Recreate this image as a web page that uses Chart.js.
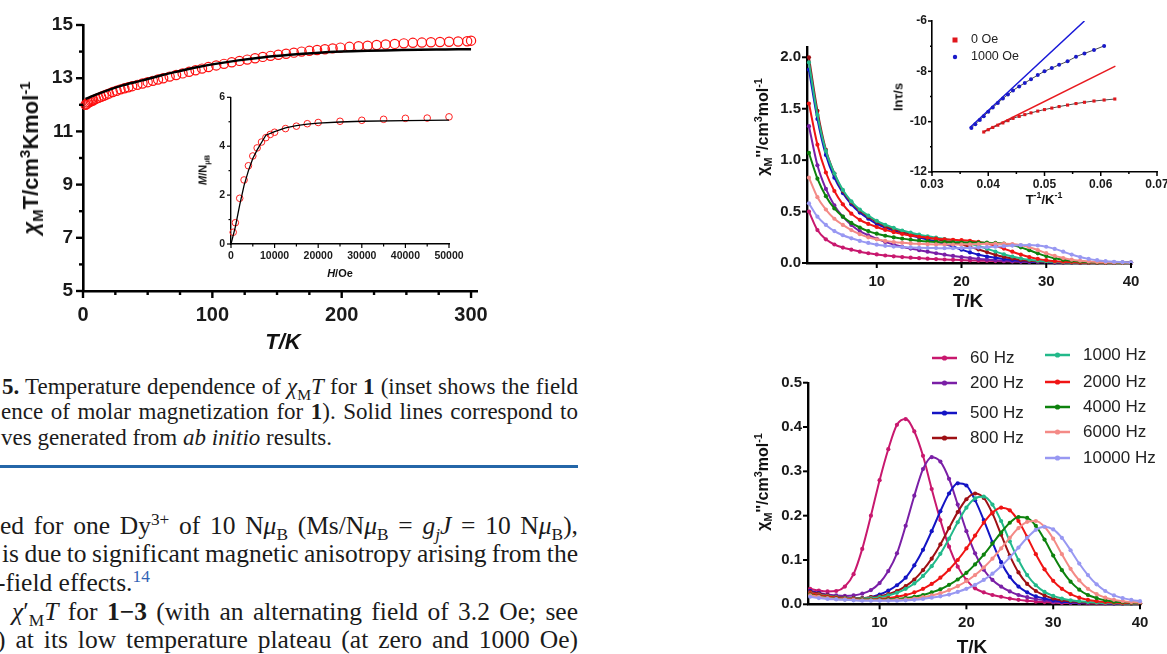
<!DOCTYPE html>
<html>
<head>
<meta charset="utf-8">
<script src="https://cdn.jsdelivr.net/npm/chart.js@4.4.0/dist/chart.umd.min.js"></script>
<style>
    body { margin: 0; width: 1167px; height: 654px; overflow: hidden; position: relative; background: #fff; font-family: "Liberation Sans", Arial, sans-serif; }
    canvas { position: absolute; }
    .t { position: absolute; white-space: nowrap; font-weight: bold; color: #111; line-height: 1; }
    .rot { transform: translate(-50%, -50%) rotate(-90deg); }
    .ctr { transform: translate(-50%, -50%); }
    .t sub, .t sup, .ln sub, .ln sup { font-size: 68%; line-height: 0; }
    .ln { position: absolute; white-space: nowrap; font-family: "Liberation Serif", "DejaVu Serif", serif; color: #1b1b1b; line-height: 1; }
    .cap { font-size: 23px; }
    .bod { font-size: 25.5px; }
    .rule { position: absolute; left: 0; top: 465px; width: 578px; height: 2.5px; background: #2466a8; }
</style>
</head>
<body>

<canvas id="chiT" width="500" height="340" style="left:0;top:0"></canvas>
<canvas id="magn" width="285" height="200" style="left:185px;top:85px"></canvas>
<canvas id="zeroField" width="447" height="320" style="left:720px;top:0"></canvas>
<canvas id="arrh" width="310" height="210" style="left:880px;top:0"></canvas>
<canvas id="freqs" width="447" height="324" style="left:720px;top:330px"></canvas>

<!-- axis titles -->
<div class="t rot" style="left:31px;top:158px;font-size:22px"><i>χ</i><sub>M</sub>T/cm<sup>3</sup>Kmol<sup>-1</sup></div>
<div class="t ctr" style="left:283px;top:342px;font-size:22px"><i>T/K</i></div>
<div class="t rot" style="left:203px;top:170px;font-size:11px"><i>M</i>/N<sub>μB</sub></div>
<div class="t ctr" style="left:340px;top:273px;font-size:11px"><i>H</i>/Oe</div>

<div class="t rot" style="left:763px;top:127px;font-size:16px">χ<sub>M</sub>''/cm<sup>3</sup>mol<sup>-1</sup></div>
<div class="t ctr" style="left:968px;top:300px;font-size:19px">T/K</div>
<div class="t rot" style="left:898px;top:97px;font-size:13px">lnτ/s</div>
<div class="t ctr" style="left:1044px;top:199px;font-size:13px">T<sup>-1</sup>/K<sup>-1</sup></div>

<div class="t rot" style="left:763px;top:482px;font-size:16px">χ<sub>M</sub>''/cm<sup>3</sup>mol<sup>-1</sup></div>
<div class="t ctr" style="left:972px;top:646px;font-size:19px">T/K</div>

<!-- page text -->
<div class="ln cap just" data-l="2" style="left:2px;top:375px"><b>5.</b> Temperature dependence of <i>χ</i><sub>M</sub><i>T</i> for <b>1</b> (inset shows the field</div>
<div class="ln cap just" data-l="1" style="left:1px;top:400px">ence of molar magnetization for <b>1</b>). Solid lines correspond to</div>
<div class="ln cap" style="left:1px;top:426px">ves generated from <i>ab initio</i> results.</div>
<div class="rule"></div>
<div class="ln bod just" data-l="0" style="left:0;top:513px">ed for one Dy<sup>3+</sup> of 10 N<i>μ</i><sub>B</sub> (Ms/N<i>μ</i><sub>B</sub> = <i>g<sub>j</sub>J</i> = 10 N<i>μ</i><sub>B</sub>),</div>
<div class="ln bod just" data-l="2" style="left:2px;top:541px">is due to significant magnetic anisotropy arising from the</div>
<div class="ln bod" style="left:-3px;top:570px">-field effects.<sup style="color:#2f63b5">14</sup></div>
<div class="ln bod just" data-l="12" style="left:12px;top:599px"><i>χ</i>′<sub>M</sub><i>T</i> for <b>1−3</b> (with an alternating field of 3.2 Oe; see</div>
<div class="ln bod just" data-l="-3" style="left:-3px;top:627px">) at its low temperature plateau (at zero and 1000 Oe)</div>

<script>
// ---- chi_M T vs T ----
let tempK = [2, 3, 4, 5, 6, 7, 8, 10, 12, 14, 16, 18, 20, 23, 26, 29, 32, 35, 38, 42, 46, 50, 54, 58, 62, 67, 72, 77, 82, 87, 92, 97, 103, 109, 115, 121, 127, 133, 139, 145, 151, 157, 163, 169, 175, 181, 187, 193, 199, 206, 213, 220, 227, 234, 241, 248, 255, 262, 269, 276, 283, 290, 297, 300];
let chiT = [12.0, 12.04, 12.08, 12.1, 12.13, 12.15, 12.17, 12.22, 12.26, 12.3, 12.34, 12.38, 12.42, 12.48, 12.53, 12.58, 12.62, 12.66, 12.7, 12.75, 12.8, 12.85, 12.9, 12.95, 13.0, 13.06, 13.12, 13.18, 13.24, 13.3, 13.36, 13.42, 13.48, 13.54, 13.6, 13.65, 13.7, 13.75, 13.8, 13.84, 13.88, 13.92, 13.96, 14.0, 14.03, 14.06, 14.09, 14.12, 14.15, 14.18, 14.2, 14.22, 14.25, 14.27, 14.29, 14.31, 14.33, 14.34, 14.35, 14.36, 14.37, 14.38, 14.39, 14.41];
let tempFit = [2, 5, 10, 20, 30, 40, 50, 60, 70, 80, 90, 100, 120, 140, 160, 180, 200, 220, 240, 260, 280, 300];
let chiTFit = [12.22, 12.28, 12.38, 12.56, 12.72, 12.85, 12.97, 13.1, 13.22, 13.33, 13.43, 13.52, 13.67, 13.79, 13.88, 13.95, 14.0, 14.03, 14.05, 14.07, 14.08, 14.09];

// ---- M vs H (inset) ----
let hField = [500, 1000, 2000, 3000, 4000, 5000, 6000, 7000, 8000, 9000, 10000, 12500, 15000, 17500, 20000, 25000, 30000, 35000, 40000, 45000, 50000];
let magn = [0.48, 0.87, 1.87, 2.62, 3.2, 3.6, 3.93, 4.17, 4.35, 4.48, 4.57, 4.72, 4.82, 4.92, 4.97, 5.02, 5.06, 5.1, 5.14, 5.15, 5.2];
let hFit = [0, 1000, 2000, 3000, 4000, 5000, 6000, 7000, 8000, 10000, 12500, 15000, 17500, 20000, 25000, 30000, 40000, 50000];
let magnFit = [0, 0.7, 1.6, 2.4, 3.0, 3.5, 3.85, 4.15, 4.45, 4.6, 4.75, 4.84, 4.9, 4.94, 4.99, 5.02, 5.05, 5.07];

// ---- ac data, shared temperature grid ----
let tGrid = [2, 3, 4, 5, 6, 7, 8, 9, 10, 11, 12, 13, 14, 15, 16, 17, 18, 19, 20, 21, 22, 23, 24, 25, 26, 27, 28, 29, 30, 31, 32, 33, 34, 35, 36, 37, 38, 39, 40];
let freqLabels = ["60 Hz", "200 Hz", "500 Hz", "800 Hz", "1000 Hz", "2000 Hz", "4000 Hz", "6000 Hz", "10000 Hz"];
let freqColors = ["#c8186e", "#7a1fa6", "#1414c4", "#9e1014", "#22b98a", "#f01414", "#0d820d", "#f48a86", "#9898f2"];

// zero field chi'' (top right)
let zf60 = [0.5, 0.32, 0.23, 0.18, 0.15, 0.13, 0.11, 0.095, 0.083, 0.073, 0.065, 0.058, 0.052, 0.047, 0.042, 0.038, 0.034, 0.031, 0.028, 0.025, 0.023, 0.021, 0.019, 0.017, 0.015, 0.014, 0.012, 0.011, 0.01, 0.009, 0.008, 0.007, 0.006, 0.006, 0.005, 0.005, 0.004, 0.004, 0.004];
let zf200 = [1.33, 0.95, 0.72, 0.56, 0.45, 0.37, 0.31, 0.27, 0.235, 0.205, 0.18, 0.158, 0.14, 0.125, 0.11, 0.095, 0.081, 0.069, 0.058, 0.048, 0.04, 0.033, 0.027, 0.022, 0.018, 0.014, 0.011, 0.009, 0.007, 0.006, 0.005, 0.004, 0.004, 0.003, 0.003, 0.003, 0.002, 0.002, 0.002];
let zf500 = [1.88, 1.4, 1.05, 0.83, 0.68, 0.57, 0.49, 0.43, 0.38, 0.345, 0.315, 0.29, 0.268, 0.248, 0.228, 0.208, 0.185, 0.16, 0.13, 0.103, 0.08, 0.063, 0.05, 0.039, 0.029, 0.021, 0.015, 0.011, 0.008, 0.006, 0.005, 0.004, 0.003, 0.003, 0.003, 0.002, 0.002, 0.002, 0.002];
let zf800 = [2.0, 1.48, 1.1, 0.87, 0.7, 0.59, 0.51, 0.45, 0.4, 0.36, 0.33, 0.305, 0.283, 0.264, 0.247, 0.232, 0.217, 0.2, 0.18, 0.157, 0.132, 0.106, 0.081, 0.06, 0.043, 0.03, 0.021, 0.015, 0.01, 0.008, 0.006, 0.005, 0.004, 0.003, 0.003, 0.003, 0.002, 0.002, 0.002];
let zf1000 = [1.95, 1.44, 1.09, 0.87, 0.71, 0.6, 0.52, 0.46, 0.41, 0.372, 0.342, 0.316, 0.295, 0.276, 0.26, 0.246, 0.233, 0.22, 0.205, 0.187, 0.165, 0.139, 0.111, 0.085, 0.063, 0.045, 0.032, 0.022, 0.015, 0.011, 0.008, 0.006, 0.005, 0.004, 0.003, 0.003, 0.002, 0.002, 0.002];
let zf2000 = [1.55, 1.15, 0.88, 0.7, 0.57, 0.48, 0.42, 0.38, 0.35, 0.322, 0.3, 0.282, 0.267, 0.255, 0.245, 0.237, 0.231, 0.226, 0.222, 0.216, 0.205, 0.19, 0.168, 0.14, 0.11, 0.082, 0.058, 0.04, 0.027, 0.018, 0.012, 0.009, 0.006, 0.005, 0.004, 0.003, 0.003, 0.002, 0.002];
let zf4000 = [1.07, 0.82, 0.65, 0.53, 0.45, 0.39, 0.345, 0.31, 0.285, 0.265, 0.25, 0.237, 0.226, 0.217, 0.21, 0.205, 0.202, 0.2, 0.199, 0.199, 0.199, 0.198, 0.195, 0.188, 0.174, 0.152, 0.124, 0.094, 0.067, 0.046, 0.031, 0.021, 0.014, 0.01, 0.007, 0.005, 0.004, 0.003, 0.003];
let zf6000 = [0.83, 0.64, 0.52, 0.43, 0.37, 0.32, 0.28, 0.25, 0.23, 0.215, 0.204, 0.196, 0.19, 0.186, 0.183, 0.181, 0.18, 0.18, 0.181, 0.182, 0.184, 0.186, 0.188, 0.188, 0.184, 0.173, 0.153, 0.126, 0.096, 0.069, 0.048, 0.032, 0.022, 0.015, 0.01, 0.007, 0.005, 0.004, 0.003];
let zf10000 = [0.58, 0.45, 0.37, 0.31, 0.27, 0.24, 0.215, 0.195, 0.178, 0.167, 0.16, 0.155, 0.151, 0.148, 0.146, 0.145, 0.144, 0.144, 0.145, 0.147, 0.15, 0.154, 0.159, 0.164, 0.169, 0.173, 0.174, 0.17, 0.158, 0.137, 0.11, 0.082, 0.058, 0.04, 0.027, 0.018, 0.012, 0.009, 0.006];

// 1000 Oe chi'' (bottom right)
let f60 = [0.035, 0.031, 0.029, 0.03, 0.04, 0.068, 0.125, 0.2, 0.28, 0.35, 0.405, 0.418, 0.39, 0.335, 0.26, 0.19, 0.13, 0.085, 0.055, 0.036, 0.027, 0.021, 0.017, 0.013, 0.01, 0.008, 0.006, 0.005, 0.004, 0.003, 0.003, 0.003, 0.002, 0.002, 0.002, 0.002, 0.002, 0.002, 0.002];
let f200 = [0.03, 0.026, 0.022, 0.02, 0.019, 0.02, 0.024, 0.032, 0.048, 0.075, 0.115, 0.177, 0.245, 0.305, 0.332, 0.322, 0.283, 0.225, 0.165, 0.115, 0.078, 0.055, 0.04, 0.029, 0.021, 0.016, 0.012, 0.009, 0.006, 0.005, 0.004, 0.003, 0.003, 0.003, 0.002, 0.002, 0.002, 0.002, 0.002];
let f500 = [0.03, 0.025, 0.02, 0.017, 0.015, 0.014, 0.014, 0.016, 0.022, 0.031, 0.043, 0.06, 0.088, 0.123, 0.165, 0.21, 0.25, 0.273, 0.268, 0.235, 0.19, 0.14, 0.095, 0.062, 0.04, 0.027, 0.018, 0.013, 0.009, 0.006, 0.005, 0.004, 0.003, 0.003, 0.003, 0.002, 0.002, 0.002, 0.002];
let f800 = [0.028, 0.024, 0.02, 0.017, 0.015, 0.014, 0.014, 0.016, 0.018, 0.023, 0.03, 0.041, 0.056, 0.077, 0.103, 0.135, 0.172, 0.208, 0.237, 0.25, 0.24, 0.205, 0.157, 0.11, 0.072, 0.046, 0.03, 0.02, 0.013, 0.009, 0.007, 0.005, 0.004, 0.003, 0.003, 0.003, 0.002, 0.002, 0.002];
let f1000 = [0.026, 0.022, 0.019, 0.016, 0.014, 0.013, 0.013, 0.014, 0.016, 0.02, 0.026, 0.035, 0.047, 0.064, 0.086, 0.114, 0.148, 0.185, 0.218, 0.239, 0.243, 0.225, 0.188, 0.142, 0.1, 0.066, 0.043, 0.028, 0.019, 0.013, 0.009, 0.007, 0.005, 0.004, 0.003, 0.003, 0.002, 0.002, 0.002];
let f2000 = [0.025, 0.021, 0.018, 0.015, 0.013, 0.012, 0.011, 0.011, 0.012, 0.014, 0.017, 0.021, 0.027, 0.035, 0.046, 0.06, 0.078, 0.1, 0.126, 0.155, 0.184, 0.207, 0.218, 0.212, 0.188, 0.152, 0.113, 0.079, 0.053, 0.035, 0.023, 0.015, 0.01, 0.007, 0.005, 0.004, 0.003, 0.003, 0.002];
let f4000 = [0.022, 0.018, 0.015, 0.013, 0.011, 0.01, 0.01, 0.01, 0.01, 0.011, 0.012, 0.014, 0.017, 0.021, 0.027, 0.034, 0.044, 0.056, 0.071, 0.09, 0.112, 0.137, 0.162, 0.184, 0.197, 0.195, 0.177, 0.146, 0.11, 0.077, 0.051, 0.033, 0.021, 0.014, 0.009, 0.006, 0.005, 0.004, 0.003];
let f6000 = [0.02, 0.017, 0.014, 0.012, 0.011, 0.01, 0.009, 0.009, 0.009, 0.009, 0.01, 0.011, 0.013, 0.016, 0.02, 0.025, 0.032, 0.041, 0.052, 0.066, 0.083, 0.103, 0.126, 0.15, 0.172, 0.186, 0.188, 0.175, 0.148, 0.113, 0.08, 0.054, 0.035, 0.023, 0.015, 0.01, 0.007, 0.005, 0.004];
let f10000 = [0.017, 0.014, 0.012, 0.011, 0.01, 0.009, 0.008, 0.008, 0.008, 0.008, 0.008, 0.009, 0.01, 0.012, 0.015, 0.018, 0.022, 0.028, 0.035, 0.044, 0.055, 0.069, 0.086, 0.106, 0.128, 0.15, 0.168, 0.175, 0.169, 0.15, 0.122, 0.092, 0.066, 0.045, 0.03, 0.02, 0.014, 0.01, 0.007];

// ---- Arrhenius inset ----
let invT1000 = [0.0370, 0.0377, 0.0385, 0.0392, 0.0400, 0.0408, 0.0417, 0.0426, 0.0435, 0.0444, 0.0455, 0.0465, 0.0476, 0.0488, 0.0500, 0.0513, 0.0526, 0.0541, 0.0556, 0.0571, 0.0588, 0.0606];
let lnTau1000 = [-10.25, -10.1, -9.93, -9.78, -9.61, -9.44, -9.26, -9.08, -8.92, -8.76, -8.6, -8.46, -8.31, -8.15, -8.0, -7.87, -7.74, -7.6, -7.42, -7.29, -7.15, -6.99];
let invT0 = [0.0392, 0.0400, 0.0408, 0.0417, 0.0426, 0.0435, 0.0444, 0.0455, 0.0465, 0.0476, 0.0488, 0.0500, 0.0513, 0.0526, 0.0541, 0.0556, 0.0571, 0.0588, 0.0606, 0.0625];
let lnTau0 = [-10.41, -10.32, -10.23, -10.14, -10.05, -9.96, -9.87, -9.79, -9.72, -9.65, -9.58, -9.52, -9.46, -9.4, -9.34, -9.28, -9.23, -9.18, -9.14, -9.1];
let orbachX0 = [0.0391, 0.0626];
let orbachY0 = [-10.41, -7.79];
let orbachX1000 = [0.0367, 0.0571];
let orbachY1000 = [-10.24, -6.0];

// tick values
let chiTTicksX = [0, 100, 200, 300];
let chiTTicksY = [5, 7, 9, 11, 13, 15];
let magnTicksX = [0, 10000, 20000, 30000, 40000, 50000];
let magnTicksY = [0, 2, 4, 6];
let acTicksX = [10, 20, 30, 40];
let zfTicksY = [0, 0.5, 1.0, 1.5, 2.0];
let acTicksY = [0, 0.1, 0.2, 0.3, 0.4, 0.5];
let arrTicksX = [0.03, 0.04, 0.05, 0.06, 0.07];
let arrTicksY = [-12, -10, -8, -6];

Chart.defaults.font.family = "'Liberation Sans', Arial, sans-serif";
Chart.defaults.color = "#1a1a1a";
Chart.defaults.animation = false;
Chart.defaults.plugins.legend.display = false;
Chart.defaults.plugins.tooltip.enabled = false;

function pairs(xs, ys) {
    return xs.map((x, i) => ({ x: x, y: ys[i] }));
}

function axis(min, max, tickVals, size, fontSize, pad, bw, fmt) {
    return {
        type: "linear",
        min: min,
        max: max,
        grid: { display: false, drawTicks: false },
        border: { display: true, color: "#000", width: bw },
        ticks: {
            font: { size: fontSize, weight: "bold" },
            padding: pad,
            autoSkip: false,
            maxRotation: 0,
            callback: fmt || ((v) => String(v)),
        },
        afterBuildTicks: (s) => {
            s.ticks = tickVals.map((v) => ({ value: v }));
        },
        afterFit: (s) => {
            if (s.isHorizontal()) s.height = size;
            else s.width = size;
        },
    };
}

// outward tick marks, major and minor
let tickMarks = {
    id: "tickMarks",
    afterDraw(chart, args, opts) {
        let ctx = chart.ctx;
        ctx.save();
        ctx.strokeStyle = "#000";
        ctx.lineWidth = opts.width;
        ["x", "y"].forEach((id) => {
            let s = chart.scales[id];
            let cfg = opts[id];
            let draw = (vals, len) => {
                vals.forEach((v) => {
                    let p = s.getPixelForValue(v);
                    ctx.beginPath();
                    if (id === "x") {
                        ctx.moveTo(p, s.top);
                        ctx.lineTo(p, s.top + len);
                    } else {
                        ctx.moveTo(s.right, p);
                        ctx.lineTo(s.right - len, p);
                    }
                    ctx.stroke();
                });
            };
            draw(cfg.major, cfg.majorLen);
            draw(cfg.minor || [], cfg.minorLen || 0);
        });
        ctx.restore();
    },
};

// legends drawn at fixed spots
let spotLegend = {
    id: "spotLegend",
    afterDraw(chart, args, o) {
        if (!o.items) return;
        let ctx = chart.ctx;
        ctx.save();
        ctx.font = o.font;
        ctx.textBaseline = "middle";
        o.items.forEach((it) => {
            let ds = chart.data.datasets[it.ds];
            let col = ds.pointBackgroundColor;
            let [x, y] = it.pos;
            if (o.line) {
                ctx.strokeStyle = col;
                ctx.lineWidth = 2.5;
                ctx.beginPath();
                ctx.moveTo(x, y);
                ctx.lineTo(x + 25, y);
                ctx.stroke();
                ctx.fillStyle = col;
                ctx.beginPath();
                ctx.arc(x + 12.5, y, 2.6, 0, Math.PI * 2);
                ctx.fill();
            } else {
                ctx.fillStyle = col;
                if (ds.pointStyle === "rect") ctx.fillRect(x - 2.5, y - 2.5, 5, 5);
                else {
                    ctx.beginPath();
                    ctx.arc(x, y, 2.2, 0, Math.PI * 2);
                    ctx.fill();
                }
            }
            ctx.fillStyle = "#222";
            ctx.fillText(ds.label, x + o.gap, y);
        });
        ctx.restore();
    },
};

function acSets(series) {
    return series.map((vals, i) => ({
        label: freqLabels[i],
        data: pairs(tGrid, vals),
        showLine: true,
        borderColor: freqColors[i],
        backgroundColor: freqColors[i],
        pointBackgroundColor: freqColors[i],
        borderWidth: 2,
        pointRadius: 2.1,
        pointBorderWidth: 0,
        cubicInterpolationMode: "monotone",
        clip: false,
        order: 10 - i,
    }));
}

// left: chi_M T
new Chart(document.querySelector("#chiT"), {
    type: "scatter",
    data: {
        datasets: [
            {
                data: pairs(tempFit, chiTFit),
                showLine: true,
                borderColor: "#000",
                borderWidth: 2.5,
                pointRadius: 0,
                cubicInterpolationMode: "monotone",
            },
            {
                data: pairs(tempK, chiT),
                pointRadius: 4.6,
                pointBorderColor: "#ff1010",
                pointBackgroundColor: "rgba(0,0,0,0)",
                pointBorderWidth: 1.2,
                clip: false,
            },
        ],
    },
    options: {
        responsive: false,
        layout: { padding: { left: 0, top: 25, right: 16, bottom: 0 } },
        scales: {
            x: axis(0, 305, chiTTicksX, 49, 20, 12, 2.6),
            y: axis(5, 15, chiTTicksY, 83, 19, 10, 2.6),
        },
        plugins: {
            tickMarks: {
                width: 2.4,
                x: { major: chiTTicksX, majorLen: 7, minor: [25, 50, 75, 125, 150, 175, 225, 250, 275], minorLen: 4 },
                y: { major: chiTTicksY, majorLen: 7, minor: [6, 8, 10, 12, 14], minorLen: 4 },
            },
        },
    },
    plugins: [tickMarks],
});

// left inset: M vs H
new Chart(document.querySelector("#magn"), {
    type: "scatter",
    data: {
        datasets: [
            {
                data: pairs(hFit, magnFit),
                showLine: true,
                borderColor: "#000",
                borderWidth: 1.3,
                pointRadius: 0,
            },
            {
                data: pairs(hField, magn),
                pointRadius: 3.3,
                pointBorderColor: "#ff2020",
                pointBackgroundColor: "rgba(0,0,0,0)",
                pointBorderWidth: 1,
                clip: false,
            },
        ],
    },
    options: {
        responsive: false,
        layout: { padding: { left: 0, top: 12, right: 21, bottom: 0 } },
        scales: {
            x: axis(0, 50000, magnTicksX, 41, 10.5, 6, 1.4),
            y: axis(0, 6, magnTicksY, 46, 10.5, 6, 1.4),
        },
        plugins: {
            tickMarks: {
                width: 1.2,
                x: { major: magnTicksX, majorLen: 4, minor: [5000, 15000, 25000, 35000, 45000], minorLen: 2.5 },
                y: { major: magnTicksY, majorLen: 4, minor: [1, 3, 5], minorLen: 2.5 },
            },
        },
    },
    plugins: [tickMarks],
});

// top right: zero field chi''
new Chart(document.querySelector("#zeroField"), {
    type: "scatter",
    data: { datasets: acSets([zf60, zf200, zf500, zf800, zf1000, zf2000, zf4000, zf6000, zf10000]) },
    options: {
        responsive: false,
        layout: { padding: { left: 0, top: 47, right: 36, bottom: 0 } },
        scales: {
            x: axis(1.77, 40, acTicksX, 57, 15, 10, 2.4),
            y: axis(0, 2.1, zfTicksY, 87, 15, 6, 2.4, (v) => v.toFixed(1)),
        },
        plugins: {
            tickMarks: {
                width: 2,
                x: { major: acTicksX, majorLen: 5 },
                y: { major: zfTicksY, majorLen: 5 },
            },
        },
    },
    plugins: [tickMarks],
});

// top right inset: ln tau vs 1/T
new Chart(document.querySelector("#arrh"), {
    type: "scatter",
    data: {
        datasets: [
            {
                label: "0 Oe",
                data: pairs(invT0, lnTau0),
                showLine: true,
                borderColor: "#4a4a4a",
                borderWidth: 1,
                pointStyle: "rect",
                pointRadius: 2.2,
                pointBorderWidth: 0,
                pointBackgroundColor: "#e0161c",
                cubicInterpolationMode: "monotone",
            },
            {
                label: "1000 Oe",
                data: pairs(invT1000, lnTau1000),
                showLine: true,
                borderColor: "#4a4a4a",
                borderWidth: 1,
                pointRadius: 2,
                pointBorderWidth: 0,
                pointBackgroundColor: "#1a1ac8",
                cubicInterpolationMode: "monotone",
            },
            {
                data: pairs(orbachX0, orbachY0),
                showLine: true,
                borderColor: "#e8191e",
                borderWidth: 1.5,
                pointRadius: 0,
            },
            {
                data: pairs(orbachX1000, orbachY1000),
                showLine: true,
                borderColor: "#1818d8",
                borderWidth: 1.5,
                pointRadius: 0,
            },
        ],
    },
    options: {
        responsive: false,
        layout: { padding: { left: 0, top: 21, right: 33, bottom: 0 } },
        scales: {
            x: axis(0.03, 0.07, arrTicksX, 38, 12, 5, 1.6, (v) => v.toFixed(2)),
            y: axis(-12, -6, arrTicksY, 52, 12, 5, 1.6),
        },
        plugins: {
            tickMarks: {
                width: 1.5,
                x: { major: arrTicksX, majorLen: 4, minor: [0.035, 0.045, 0.055, 0.065], minorLen: 2 },
                y: { major: arrTicksY, majorLen: 4, minor: [-11, -9, -7], minorLen: 2 },
            },
            spotLegend: {
                font: '12.5px "Liberation Sans", Arial, sans-serif',
                gap: 16,
                items: [
                    { ds: 0, pos: [75, 40] },
                    { ds: 1, pos: [75, 57] },
                ],
            },
        },
    },
    plugins: [tickMarks, spotLegend],
});

// bottom right: 1000 Oe chi''
new Chart(document.querySelector("#freqs"), {
    type: "scatter",
    data: { datasets: acSets([f60, f200, f500, f800, f1000, f2000, f4000, f6000, f10000]) },
    options: {
        responsive: false,
        layout: { padding: { left: 0, top: 52.7, right: 27, bottom: 0 } },
        scales: {
            x: axis(1.75, 40, acTicksX, 49.7, 15, 10, 2.4),
            y: axis(0, 0.5, acTicksY, 88, 15, 6, 2.4, (v) => v.toFixed(1)),
        },
        plugins: {
            tickMarks: {
                width: 2,
                x: { major: acTicksX, majorLen: 5 },
                y: { major: acTicksY, majorLen: 5 },
            },
            spotLegend: {
                font: '17px "Liberation Sans", Arial, sans-serif',
                gap: 38,
                line: true,
                items: [
                    { ds: 0, pos: [212, 28] },
                    { ds: 1, pos: [212, 53] },
                    { ds: 2, pos: [212, 83] },
                    { ds: 3, pos: [212, 108] },
                    { ds: 4, pos: [325, 25] },
                    { ds: 5, pos: [325, 52] },
                    { ds: 6, pos: [325, 77] },
                    { ds: 7, pos: [325, 102] },
                    { ds: 8, pos: [325, 128] },
                ],
            },
        },
    },
    plugins: [tickMarks, spotLegend],
});

// stretch the justified text lines out to the right margin
document.querySelectorAll(".just").forEach((el) => {
    let target = 578 - parseFloat(el.dataset.l);
    let spaces = (el.textContent.match(/ /g) || []).length;
    let w = el.getBoundingClientRect().width;
    el.style.wordSpacing = (target - w) / spaces + "px";
});
</script>
</body>
</html>
